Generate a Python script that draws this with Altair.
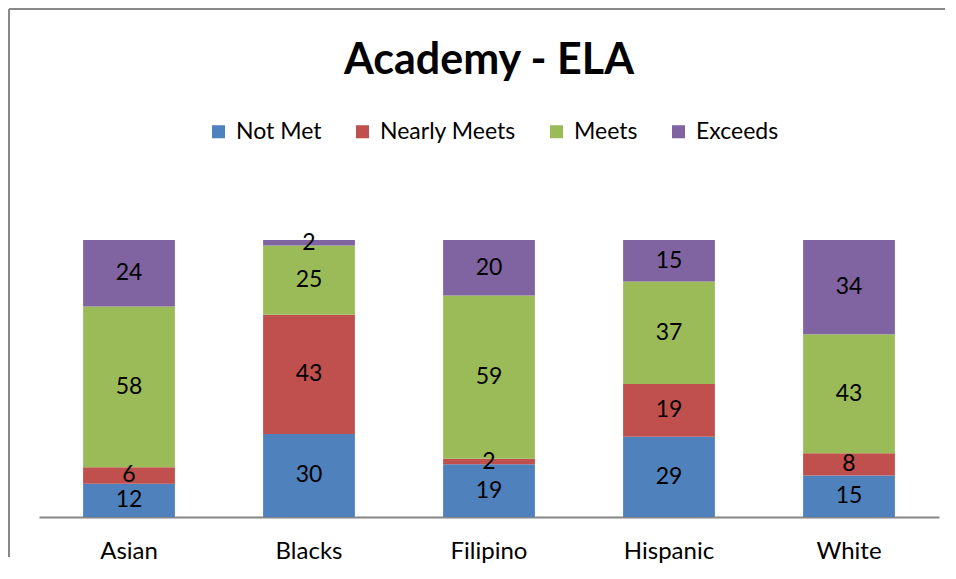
import altair as alt
import pandas as pd

groups = ["Asian", "Blacks", "Filipino", "Hispanic", "White"]
levels = ["Not Met", "Nearly Meets", "Meets", "Exceeds"]
colors = ["#4F81BD", "#C0504D", "#9BBB59", "#8064A2"]
not_met = [12, 30, 19, 29, 15]
nearly = [6, 43, 2, 19, 8]
meets = [58, 25, 59, 37, 43]
exceeds = [24, 2, 20, 15, 34]
title_text = ["Academy - ELA"]

rows = []
for i, g in enumerate(groups):
    for j, (lvl, vals) in enumerate(zip(levels, [not_met, nearly, meets, exceeds])):
        rows.append({"group": g, "level": lvl, "ord": j, "value": vals[i]})
df = pd.DataFrame(rows)

FONT = "Lato"
W, H = 936, 508

xscale = alt.Scale(domain=groups, range=[30, 930], paddingInner=0.49, paddingOuter=0.245)
yscale = alt.Scale(domain=[0, 100], range=[H, 231], nice=False, zero=True)

base = alt.Chart(df).transform_stack(
    stack="value", as_=["y0", "y1"], groupby=["group"],
    sort=[alt.SortField("ord", order="ascending")]
).transform_calculate(mid="(datum.y0 + datum.y1) / 2")

bars = base.mark_bar().encode(
    x=alt.X("group:N", scale=xscale, sort=groups,
            axis=alt.Axis(title=None, labelAngle=0, labelFont=FONT, labelFontSize=24,
                          labelColor="#000000", labelPadding=22, ticks=False,
                          domainColor="#868686", domainWidth=2)),
    y=alt.Y("y0:Q", scale=yscale, axis=None),
    y2="y1:Q",
    color=alt.Color("level:N", scale=alt.Scale(domain=levels, range=colors),
                    legend=alt.Legend(title=None, orient="none", legendX=198, legendY=111,
                                      direction="horizontal", symbolType="square",
                                      symbolSize=170, symbolStrokeWidth=0,
                                      labelFont=FONT, labelFontSize=23, labelColor="#000000",
                                      columnPadding=29, labelOffset=6, padding=0)),
)

labels = base.mark_text(font=FONT, fontSize=23, color="#000000", baseline="middle").encode(
    x=alt.X("group:N", scale=xscale, sort=groups),
    y=alt.Y("mid:Q", scale=yscale),
    text=alt.Text("value:Q"),
)

title = alt.Chart(pd.DataFrame({"t": title_text})).mark_text(
    font=FONT, fontSize=43, fontWeight="bold", color="#000000",
    align="center", baseline="alphabetic"
).encode(x=alt.value(480), y=alt.value(65), text="t:N")

frame_df = pd.DataFrame({"k": [0]})
left_rule = alt.Chart(frame_df).mark_rule(color="#888888", strokeWidth=2).encode(
    x=alt.value(0), y=alt.value(0), y2=alt.value(548))
top_rule = alt.Chart(frame_df).mark_rule(color="#888888", strokeWidth=2).encode(
    x=alt.value(0), x2=alt.value(W), y=alt.value(0), y2=alt.value(0))

chart = alt.layer(bars, labels, title, left_rule, top_rule).properties(
    width=W, height=H,
    padding=0,
).configure_view(stroke=None)

chart.save("out.html", embed_options={"renderer": "svg", "actions": False})
